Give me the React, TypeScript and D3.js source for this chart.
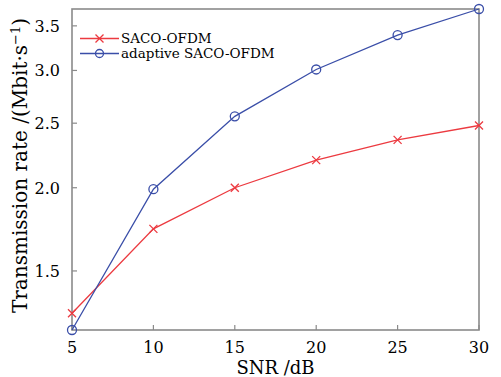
import { useEffect } from "react";
import { scaleLinear, scaleLog, line } from "d3";

const snr = [5, 10, 15, 20, 25, 30];
const sacoRate = [1.296, 1.735, 2.0, 2.2, 2.36, 2.48];
const adaptiveRate = [1.223, 1.99, 2.56, 3.01, 3.39, 3.71];
const yTicks = [1.5, 2.0, 2.5, 3.0, 3.5];
const seriesNames = ["SACO-OFDM", "adaptive SACO-OFDM"];

const RED = "#ec3a40";
const BLUE = "#3a4ea8";
const AXIS = "#8a8a8a";
const FONT = "'DejaVu Serif', serif";

export default function App() {
  useEffect(() => {
    document.body.style.margin = "0";
  }, []);

  const margin = { top: 9, right: 22, bottom: 47, left: 72 };
  const width = 501;
  const height = 377;
  const x = scaleLinear().domain([5, 30]).range([margin.left, width - margin.right]);
  const y = scaleLog().domain([1.223, 3.71]).range([height - margin.bottom, margin.top]);
  const path = line<number>()
    .x((_, i) => x(snr[i]))
    .y((d) => y(d));

  const x0 = x.range()[0];
  const x1 = x.range()[1];
  const y0 = y.range()[0];
  const y1 = y.range()[1];

  const cross = (cx: number, cy: number, key: string | number) => (
    <path
      key={key}
      d={`M${cx - 4},${cy - 4}L${cx + 4},${cy + 4}M${cx - 4},${cy + 4}L${cx + 4},${cy - 4}`}
      stroke={RED}
      strokeWidth={1.3}
    />
  );

  return (
    <svg width={width} height={height} style={{ display: "block", background: "#fff" }}>
      {/* frame */}
      <rect x={x0} y={y1} width={x1 - x0} height={y0 - y1} fill="none" stroke={AXIS} strokeWidth={1.6} />

      {/* x ticks */}
      {snr.map((v) => (
        <g key={v}>
          <line x1={x(v)} x2={x(v)} y1={y0} y2={y0 - 5} stroke={AXIS} strokeWidth={1.2} />
          <text x={x(v)} y={y0 + 23} textAnchor="middle" fontFamily={FONT} fontSize={16}>
            {v}
          </text>
        </g>
      ))}

      {/* y ticks */}
      {yTicks.map((v) => (
        <g key={v}>
          <line x1={x0} x2={x0 + 5} y1={y(v)} y2={y(v)} stroke={AXIS} strokeWidth={1.2} />
          <text x={x0 - 12} y={y(v) + 6} textAnchor="end" fontFamily={FONT} fontSize={16}>
            {v.toFixed(1)}
          </text>
        </g>
      ))}

      {/* axis labels */}
      <text x={(x0 + x1) / 2} y={374} textAnchor="middle" fontFamily={FONT} fontSize={18}>
        SNR /dB
      </text>
      <text
        transform={`translate(27, ${(y0 + y1) / 2 - 4}) rotate(-90)`}
        textAnchor="middle"
        fontFamily={FONT}
        fontSize={20}
      >
        Transmission rate /(Mbit·s
        <tspan dy={-7} fontSize={13}>−1</tspan>
        <tspan dy={7}>)</tspan>
      </text>

      {/* series */}
      <path d={path(sacoRate) ?? ""} fill="none" stroke={RED} strokeWidth={1.3} />
      <path d={path(adaptiveRate) ?? ""} fill="none" stroke={BLUE} strokeWidth={1.3} />
      {sacoRate.map((v, i) => cross(x(snr[i]), y(v), i))}
      {adaptiveRate.map((v, i) => (
        <circle key={i} cx={x(snr[i])} cy={y(v)} r={4.5} fill="none" stroke={BLUE} strokeWidth={1.3} />
      ))}

      {/* legend */}
      <g fontFamily={FONT} fontSize={13.5}>
        <line x1={80} x2={119} y1={38.5} y2={38.5} stroke={RED} strokeWidth={1.3} />
        {cross(99.5, 38.5, "lg")}
        <text x={121} y={43}>{seriesNames[0]}</text>
        <line x1={80} x2={119} y1={53.5} y2={53.5} stroke={BLUE} strokeWidth={1.3} />
        <circle cx={99.5} cy={53.5} r={4} fill="none" stroke={BLUE} strokeWidth={1.3} />
        <text x={121} y={58}>{seriesNames[1]}</text>
      </g>
    </svg>
  );
}
